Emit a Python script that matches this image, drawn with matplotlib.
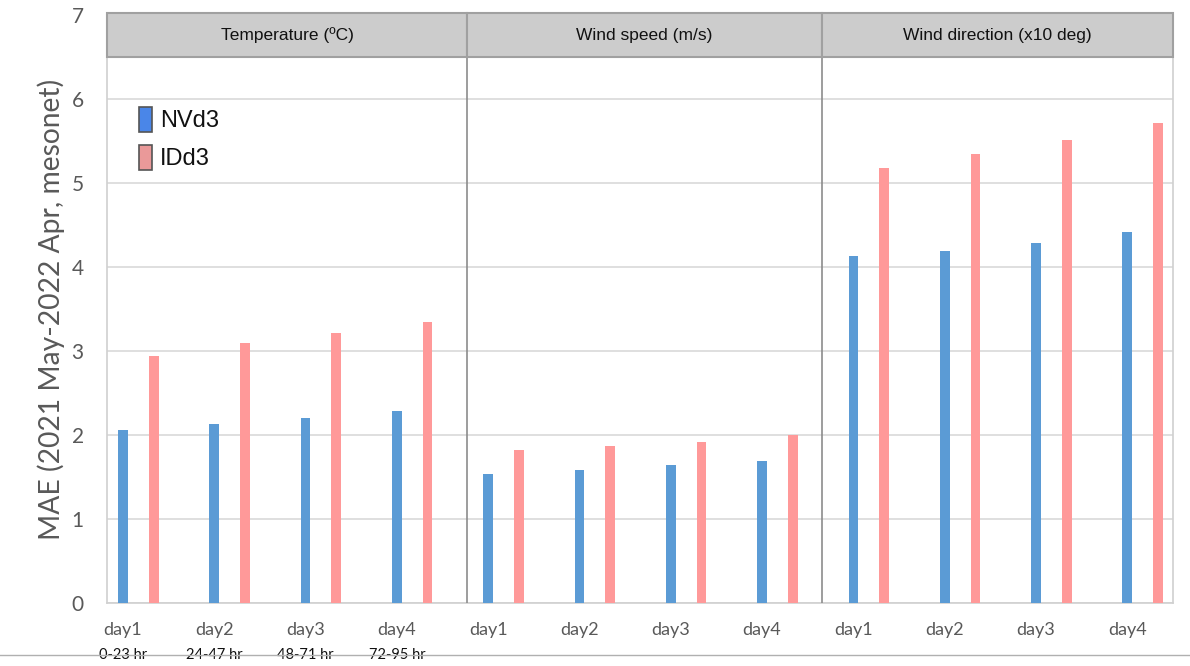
import matplotlib
matplotlib.use("Agg")
import matplotlib.pyplot as plt
from matplotlib.patches import Rectangle, Patch
from matplotlib.lines import Line2D
import matplotlib.transforms as mtransforms

# ---- data ----
panels = ["Temperature (\u00baC)", "Wind speed (m/s)", "Wind direction (x10 deg)"]
days = ["day1", "day2", "day3", "day4"]
hours = ["0-23 hr", "24-47 hr", "48-71 hr", "72-95 hr"]
series = ["NVd3", "IDd3"]
nvd3 = [2.06, 2.13, 2.20, 2.29,
        1.54, 1.58, 1.64, 1.69,
        4.13, 4.19, 4.28, 4.42]
idd3 = [2.94, 3.09, 3.21, 3.34,
        1.82, 1.87, 1.92, 2.00,
        5.18, 5.34, 5.51, 5.72]
yticks = [0, 1, 2, 3, 4, 5, 6, 7]

# ---- style ----
bar_blue = "#5B9BD5"
bar_pink = "#FF9999"
leg_blue = "#4A86E8"
leg_pink = "#EA9999"
grey_txt = "#595959"

W, H = 1190, 666
fig = plt.figure(figsize=(W / 100, H / 100), dpi=100)
ax = fig.add_axes([107.3 / W, 1 - 603 / H, (1172.7 - 107.3) / W, (603 - 15) / H])

n = len(nvd3)
xb = list(range(n))
off = 0.336
bw = 0.106
ax.bar(xb, nvd3, width=bw, color=bar_blue, zorder=3)
ax.bar([x + off for x in xb], idd3, width=bw, color=bar_pink, zorder=3)

ax.set_xlim(-0.172, 11.497)
ax.set_ylim(0, 7)
ax.set_yticks(yticks)
ax.set_yticklabels([str(t) for t in yticks], family="Lato", fontsize=15, color=grey_txt)
ax.tick_params(axis="y", length=0, pad=17)
ax.yaxis.grid(True, color="#d9d9d9", lw=1.2, zorder=0)
ax.set_axisbelow(True)

ax.set_xticks(xb)
ax.set_xticklabels(days * 3, family="Lato", fontsize=13, color=grey_txt)
ax.tick_params(axis="x", length=0, pad=14)

for s in ["top", "right", "left", "bottom"]:
    ax.spines[s].set_color("#d0d0d0")
    ax.spines[s].set_linewidth(1.2)

ax.set_ylabel("MAE (2021 May-2022 Apr, mesonet)", family="Lato", fontsize=20.3,
              color=grey_txt, labelpad=5)

# panel boundaries (in category units)
bounds = [-0.172, 3.764, 7.659, 11.497]
for b in bounds[1:-1]:
    ax.axvline(b, color="#8c8c8c", lw=1.2, zorder=4)

# header strips
for i, name in enumerate(panels):
    x0, x1 = bounds[i], bounds[i + 1]
    ax.add_patch(Rectangle((x0, 6.5), x1 - x0, 0.52, facecolor="#cccccc",
                           edgecolor="#a0a0a0", lw=1.5, zorder=5, clip_on=False))
    ax.text((x0 + x1) / 2, 6.76, name, ha="center", va="center",
            family="Liberation Sans", fontsize=12.5, color="#111111", zorder=6)

# hour-range labels under temperature days
trans = mtransforms.blended_transform_factory(ax.transData, ax.transAxes)
for i, h in enumerate(hours):
    ax.text(xb[i], -0.088, h, transform=trans, ha="center", va="center",
            family="Lato", fontsize=10.5, color="#111111")

# bottom rule
fig.add_artist(Line2D([0, 1], [1 - 655 / H, 1 - 655 / H], color="#b0b0b0", lw=1,
                      transform=fig.transFigure))

# legend
handles = [Patch(facecolor=leg_blue, edgecolor="#555555", lw=1.2, label=series[0]),
           Patch(facecolor=leg_pink, edgecolor="#555555", lw=1.2, label=series[1])]
leg = ax.legend(handles=handles, loc="upper left",
                bbox_to_anchor=(135 / W, 1 - 103 / H), bbox_transform=fig.transFigure,
                frameon=False, prop={"family": "Liberation Sans", "size": 17},
                handlelength=0.55, handleheight=1.25, labelspacing=0.55,
                handletextpad=0.35, borderpad=0.15, borderaxespad=0)
for t in leg.get_texts():
    t.set_color("#111111")

fig.savefig("out.png", dpi=100)
